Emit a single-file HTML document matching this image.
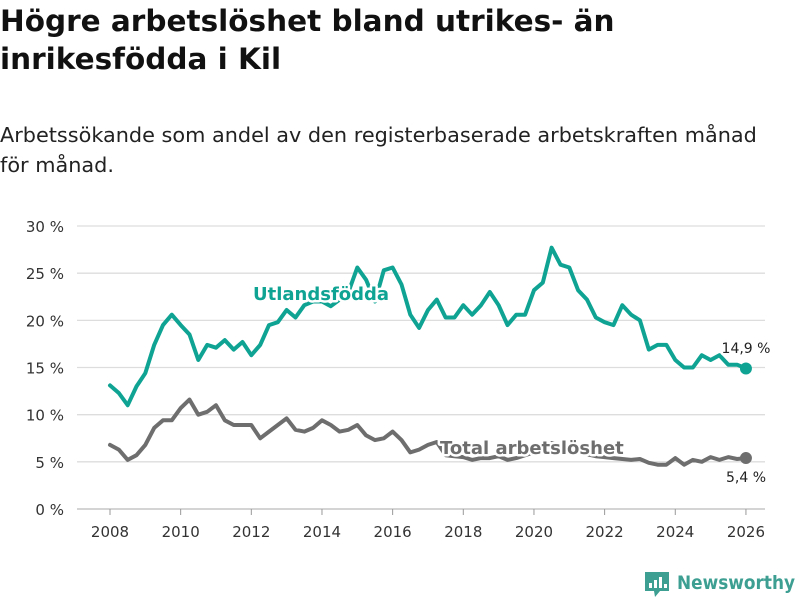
<!DOCTYPE html>
<html><head><meta charset="utf-8"><style>
body{margin:0;background:#fff;font-family:"DejaVu Sans","Liberation Sans",sans-serif;}
#wrap{position:relative;width:800px;height:600px;overflow:hidden;}
h1{position:absolute;left:0;top:2px;margin:0;font-size:29.5px;line-height:38px;font-weight:bold;color:#111;width:800px;white-space:nowrap;}
p.sub{position:absolute;left:0;top:120px;margin:0;font-size:20.8px;line-height:30px;color:#222;width:800px;white-space:nowrap;}
svg{position:absolute;left:0;top:0;}
</style></head><body>
<div id="wrap">
<h1>Högre arbetslöshet bland utrikes- än<br>inrikesfödda i Kil</h1>
<p class="sub">Arbetssökande som andel av den registerbaserade arbetskraften månad<br>för månad.</p>
<svg id="chart" width="800" height="600"></svg>
</div>
<script>
const yTicks=[0,5,10,15,20,25,30];
const xTicks=[2008,2010,2012,2014,2016,2018,2020,2022,2024,2026];
const startYear=2008, stepYears=0.25;
const foreign=[13.1,12.3,11.0,13.0,14.4,17.4,19.5,20.6,19.5,18.5,15.8,17.4,17.1,17.9,16.9,17.7,16.3,17.4,19.5,19.8,21.1,20.3,21.6,22.0,22.0,21.5,22.2,23.0,25.6,24.3,22.0,25.3,25.6,23.8,20.6,19.2,21.1,22.2,20.3,20.3,21.6,20.6,21.6,23.0,21.6,19.5,20.6,20.6,23.2,24.0,27.7,25.9,25.6,23.2,22.2,20.3,19.8,19.5,21.6,20.6,20.0,16.9,17.4,17.4,15.8,15.0,15.0,16.3,15.8,16.3,15.3,15.3,14.9];
const total=[6.8,6.3,5.2,5.7,6.8,8.6,9.4,9.4,10.7,11.6,10.0,10.3,11.0,9.4,8.9,8.9,8.9,7.5,8.2,8.9,9.6,8.4,8.2,8.6,9.4,8.9,8.2,8.4,8.9,7.8,7.3,7.5,8.2,7.3,6.0,6.3,6.8,7.1,5.7,5.6,5.5,5.2,5.4,5.4,5.6,5.2,5.4,5.7,6.0,6.5,7.0,6.8,6.5,6.2,5.8,5.6,5.5,5.4,5.3,5.2,5.3,4.9,4.7,4.7,5.4,4.7,5.2,5.0,5.5,5.2,5.5,5.3,5.4];
const endLabels=["14,9 %","5,4 %"];
const NS="http://www.w3.org/2000/svg";
const svg=document.getElementById('chart');
const X=t=>110+(t-2008)*35.33;
const Y=v=>509-v*9.433;
function el(tag,attrs,parent){const e=document.createElementNS(NS,tag);for(const k in attrs)e.setAttribute(k,attrs[k]);(parent||svg).appendChild(e);return e;}
yTicks.forEach(v=>{
 const g=el('line',{x1:77,x2:765,y1:Y(v),y2:Y(v),stroke:v===0?'#bbb':'#ddd','stroke-width':1.3});
 
 
 const t=el('text',{x:64,y:Y(v)+6,'text-anchor':'end','font-size':15,fill:'#333'});
 t.textContent=v+' %';
 
 
});
xTicks.forEach(yr=>{
 const tk=el('line',{x1:X(yr),x2:X(yr),y1:509,y2:515,stroke:'#999','stroke-width':1});
 
 
 const t=el('text',{x:X(yr),y:537,'text-anchor':'middle','font-size':15,fill:'#333'});
 t.textContent=yr;
 
 
});
function line(data,color,name){
 const d=data.map((v,i)=>(i?'L':'M')+X(startYear+i*stepYears).toFixed(1)+','+Y(v).toFixed(1)).join('');
 const p=el('path',{d:d,fill:'none',stroke:color,'stroke-width':4,'stroke-linejoin':'round','stroke-linecap':'round'});
 
 
 const last=data.length-1;
 const c=el('circle',{cx:X(startYear+last*stepYears),cy:Y(data[last]),r:6,fill:color});
 
 
}
line(total,'#6e6e6e','total-line');
line(foreign,'#0ea393','foreign-line');
function label(txt,x,y,color,size,weight,name,anchor){
 const t=el('text',{x:x,y:y,'font-size':size,'font-weight':weight,fill:color,stroke:'#fff','stroke-width':5,'paint-order':'stroke','stroke-linejoin':'round','text-anchor':anchor||'start'});
 t.textContent=txt;
 
 
}
label('Utlandsfödda',253,300,'#0ea393',18,'bold','foreign-series-label');
label('Total arbetslöshet',440,454,'#6e6e6e',18,'bold','total-series-label');
label(endLabels[0],746,353,'#222',14,'normal','foreign-end-value','middle');
label(endLabels[1],746,482,'#222',14,'normal','total-end-value','middle');
const lg=el('g',{});


el('path',{d:'M645,572 h24 v19 h-9 l-5,6 l-1,-6 h-9 z',fill:'#3d9e92'},lg);
el('rect',{x:649,y:583,width:3,height:5,fill:'#fff'},lg);
el('rect',{x:654,y:580,width:3,height:8,fill:'#fff'},lg);
el('rect',{x:659,y:577,width:3,height:11,fill:'#fff'},lg);
el('rect',{x:664,y:584,width:3,height:4,fill:'#fff'},lg);
const lt=el('text',{x:677,y:589,'font-size':19,'font-weight':'bold',fill:'#3d9e92',textLength:118,lengthAdjust:'spacingAndGlyphs'},lg);
lt.textContent='Newsworthy';
</script>
</body></html>
